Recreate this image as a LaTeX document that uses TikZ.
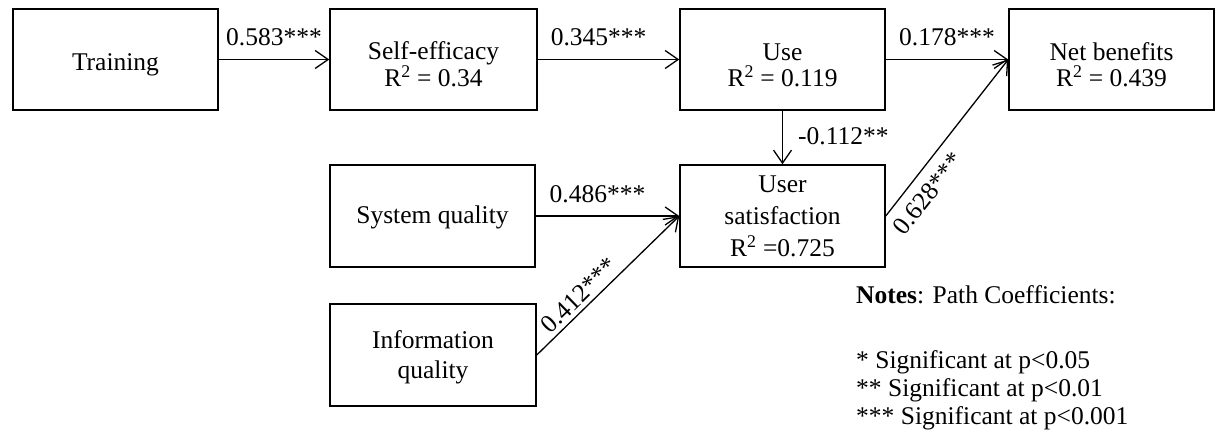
\documentclass[tikz,border=0pt]{standalone}
\usepackage{fontspec}
\setmainfont{Liberation Serif}
\usetikzlibrary{arrows.meta}
\newcommand\fsz{\fontsize{25.5}{26}\selectfont}
\newcommand\fszw{\fontsize{25.5}{32}\selectfont}
\newcommand\fszm{\fontsize{25.5}{30}\selectfont}
\newcommand\lowr{\rule{0pt}{27.5pt}}
\begin{document}
\begin{tikzpicture}[x=1pt,y=-1pt,
  box/.style={draw, line width=1.5pt, minimum width=205pt, minimum height=101pt,
    inner sep=0pt, align=center, font=\fsz},
  arr/.style={-{Straight Barb[length=13pt,width=18pt]}, line width=1.3pt},
  lab/.style={font=\fsz, inner sep=0pt},
  note/.style={font=\fsz, anchor=base west, inner sep=0pt}]
\useasboundingbox (0,0) rectangle (1217,438);

\node[box] (training) at (115.5,59.5) {\lowr Training};
\node[box, minimum width=207pt] (se) at (433.5,59.5) {\lowr Self-efficacy\\R\textsuperscript{2} = 0.34};
\node[box] (use) at (782.5,59.5) {\lowr Use\\R\textsuperscript{2} = 0.119};
\node[box] (nb) at (1111.5,59.5) {\lowr Net benefits\\R\textsuperscript{2} = 0.439};
\node[box, minimum height=102pt] (sq) at (432.5,216) {\rule{0pt}{21pt}System quality};
\node[box, minimum height=102pt, font=\fszw] (us) at (782.5,216) {User\\satisfaction\\R\textsuperscript{2} =0.725};
\node[box, minimum width=206pt, minimum height=102pt, font=\fszm] (iq) at (433,355) {\rule{0pt}{22pt}Information\\quality};

\draw[arr] (training) -- (se) node[lab, midway, anchor=base, yshift=14pt] {0.583***};
\draw[arr] (se) -- (use) node[lab, pos=0.43, anchor=base, yshift=14pt] {0.345***};
\draw[arr] (use) -- (nb) node[lab, midway, anchor=base, yshift=14pt] {0.178***};
\draw[arr] (use) -- (us) node[lab, pos=0.64, anchor=base west, xshift=15pt] {-0.112**};
\draw[arr] (sq) -- (us) node[lab, pos=0.43, anchor=base, yshift=13pt] {0.486***};
\draw[arr] (iq.east) -- (us.west) node[lab, sloped, pos=0.36, above, inner sep=4pt] {0.412***};
\draw[arr] (us.east) -- (nb.west) node[lab, sloped, pos=0.22, below, inner sep=10pt] {0.628***};

\node[note] (notes) at (856,303) {\textbf{Notes}: Path Coefficients:};
\node[note] (n1) at (856,368) {* Significant at p<0.05};
\node[note] (n2) at (856,396) {** Significant at p<0.01};
\node[note] (n3) at (856,424) {*** Significant at p<0.001};
\end{tikzpicture}
\end{document}
